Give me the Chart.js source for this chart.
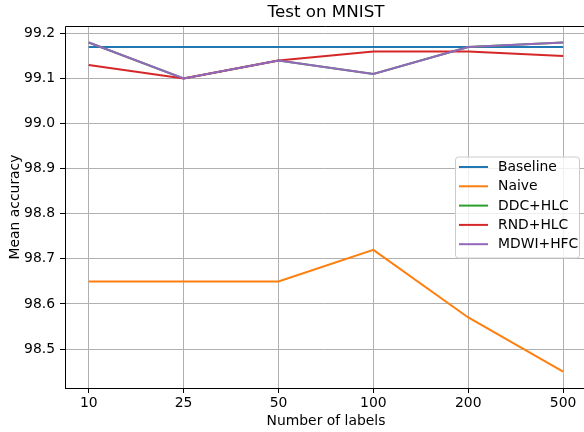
<!DOCTYPE html>
<html>
<head>
<meta charset="utf-8">
<script src="https://cdn.jsdelivr.net/npm/chart.js@4"></script>
<style>
html,body{margin:0;padding:0;background:#fff;}
#wrap{width:584px;height:432px;position:relative;}
</style>
</head>
<body>
<div id="wrap"><canvas id="c" width="584" height="432"></canvas></div>
<script>
const categories = ['10', '25', '50', '100', '200', '500'];
const baseline = [99.17, 99.17, 99.17, 99.17, 99.17, 99.17];
const naive    = [98.65, 98.65, 98.65, 98.72, 98.57, 98.45];
const ddcHlc   = [99.18, 99.10, 99.14, 99.11, 99.17, 99.18];
const rndHlc   = [99.13, 99.10, 99.14, 99.16, 99.16, 99.15];
const mdwiHfc  = [99.18, 99.10, 99.14, 99.11, 99.17, 99.18];
const yTicks   = [98.5, 98.6, 98.7, 98.8, 98.9, 99.0, 99.1, 99.2];

const seriesNames = ['Baseline', 'Naive', 'DDC+HLC', 'RND+HLC', 'MDWI+HFC'];
const seriesData = [baseline, naive, ddcHlc, rndHlc, mdwiHfc];
const colors = ['#1f77b4', '#ff7f0e', '#2ca02c', '#d62728', '#9467bd'];
const FONT = '"DejaVu Sans", sans-serif';

const datasets = seriesData.map((arr, i) => ({
  label: seriesNames[i],
  data: arr.map((v, j) => ({x: j, y: v})),
  borderColor: colors[i],
  backgroundColor: colors[i],
  borderWidth: 2,
  pointRadius: 0,
  tension: 0,
  fill: false,
  order: seriesNames.length - i
}));

const allVals = seriesData.flat();
const dMin = Math.min(...allVals), dMax = Math.max(...allVals);
const yPad = (dMax - dMin) * 0.05;

const decor = {
  id: 'decor',
  afterDraw(chart) {
    const ctx = chart.ctx;
    const a = chart.chartArea;
    ctx.save();
    // spines
    ctx.strokeStyle = '#000';
    ctx.lineWidth = 1;
    ctx.beginPath();
    ctx.moveTo(a.left + 0.5, a.bottom + 0.5);
    ctx.lineTo(a.left + 0.5, a.top + 0.5);
    ctx.lineTo(a.right + 5, a.top + 0.5);
    ctx.moveTo(a.left, a.bottom + 0.5);
    ctx.lineTo(a.right + 5, a.bottom + 0.5);
    ctx.stroke();
    // title
    const cx = (a.left + a.right + 3) / 2;
    ctx.fillStyle = '#000';
    ctx.textAlign = 'center';
    ctx.textBaseline = 'middle';
    ctx.font = '16.7px ' + FONT;
    ctx.fillText('Test on MNIST', cx, 13);
    // axis labels
    ctx.font = '13.9px ' + FONT;
    ctx.fillText('Number of labels', cx, 421);
    ctx.save();
    ctx.translate(15, (a.top + a.bottom) / 2);
    ctx.rotate(-Math.PI / 2);
    ctx.fillText('Mean accuracy', 0, 0);
    ctx.restore();
    // legend
    const bw = 124, bh = 101;
    const bx = a.right + 3 - 8 - bw;
    const by = (a.top + a.bottom) / 2 - bh / 2;
    ctx.beginPath();
    if (ctx.roundRect) ctx.roundRect(bx + 0.5, by + 0.5, bw, bh, 3); else ctx.rect(bx + 0.5, by + 0.5, bw, bh);
    ctx.fillStyle = 'rgba(255,255,255,0.8)';
    ctx.fill();
    ctx.strokeStyle = '#cccccc';
    ctx.lineWidth = 1;
    ctx.stroke();
    ctx.textAlign = 'left';
    ctx.font = '13.9px ' + FONT;
    seriesNames.forEach((name, i) => {
      const ry = by + 10.5 + i * 19.3;
      ctx.strokeStyle = colors[i];
      ctx.lineWidth = 2;
      ctx.beginPath();
      ctx.moveTo(bx + 4, ry);
      ctx.lineTo(bx + 33, ry);
      ctx.stroke();
      ctx.fillStyle = '#000';
      ctx.fillText(name, bx + 43, ry + 0.5);
    });
    ctx.restore();
  }
};

new Chart(document.getElementById('c'), {
  type: 'line',
  data: { datasets },
  plugins: [decor],
  options: {
    responsive: false,
    animation: false,
    devicePixelRatio: 1,
    layout: { padding: { top: 26, left: 0, right: 0, bottom: 0 } },
    plugins: { legend: { display: false }, title: { display: false }, tooltip: { enabled: false } },
    scales: {
      x: {
        type: 'linear',
        min: -0.25,
        max: 5.22,
        afterBuildTicks: s => { s.ticks = categories.map((c, i) => ({ value: i })); },
        afterFit: s => { s.height = 44; },
        ticks: {
          autoSkip: false,
          maxRotation: 0,
          padding: 2,
          color: '#000',
          font: { family: FONT, size: 13.9 },
          callback: v => categories[v]
        },
        grid: { color: '#b0b0b0', lineWidth: 1, tickLength: 5, tickColor: '#000', drawTicks: true },
        border: { display: false }
      },
      y: {
        type: 'linear',
        min: dMin - yPad,
        max: dMax + yPad,
        afterBuildTicks: s => { s.ticks = yTicks.map(v => ({ value: v })); },
        afterFit: s => { s.width = 65; },
        ticks: {
          padding: 5,
          color: '#000',
          font: { family: FONT, size: 13.9 },
          callback: v => v.toFixed(1)
        },
        grid: { color: '#b0b0b0', lineWidth: 1, tickLength: 5, tickColor: '#000', drawTicks: true },
        border: { display: false }
      }
    }
  }
});
</script>
</body>
</html>
